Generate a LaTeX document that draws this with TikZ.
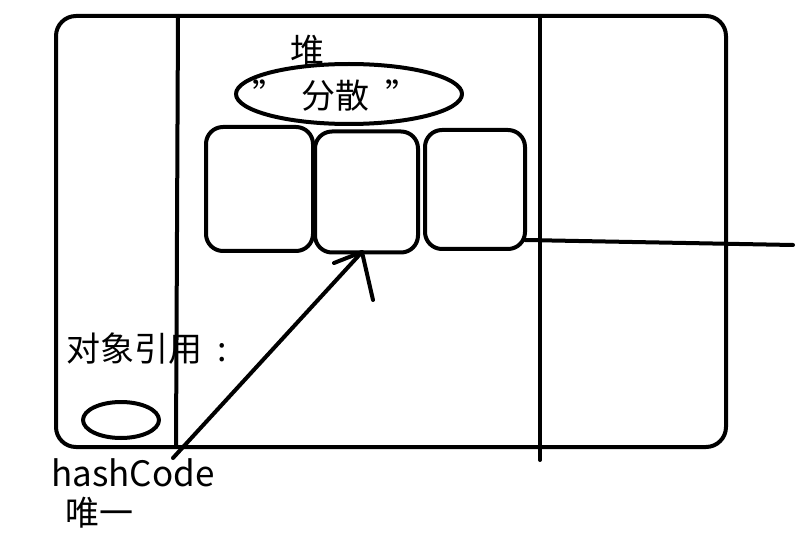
\documentclass[tikz,border=0pt]{standalone}
\usepackage{fontspec}
\newfontfamily\cjk{Noto Sans CJK SC}
\usetikzlibrary{shapes.geometric}
\begin{document}
\begin{tikzpicture}[x=1pt,y=-1pt,
  ln/.style={line width=4pt,line cap=round,line join=round},
  cell/.style={ln,rounded corners=17pt},
  lbl/.style={font=\cjk\fontsize{34}{38}\selectfont,inner sep=0pt,anchor=west}]
\useasboundingbox (0,0) rectangle (803,545);
% outer frame
\draw[ln,rounded corners=20pt] (56,16) rectangle (726,447);
\coordinate (v1t) at (178,16); \coordinate (v1b) at (176,447);
\coordinate (v2t) at (540,16); \coordinate (v2b) at (540,460);
\draw[ln] (v1t) -- (v1b);
\draw[ln] (v2t) -- (v2b);
% heap label and ellipse
\node[lbl,anchor=center] (heap) at (307,51) {堆};
\draw[ln] (349,94) ellipse [x radius=113, y radius=30];
\node[lbl,anchor=center] (fs) at (336,96) {”\hspace{0.45em}分散\hspace{0.45em}”};
% cells
\draw[cell] (206,127) rectangle (313,251);
\node (c2) [draw,ln,rounded corners=17pt,minimum width=103pt,minimum height=121pt,inner sep=0pt] at (366.5,192) {};
\draw[cell] (425,130) rectangle (525,249);
\coordinate (c3r) at (525,240);
\coordinate (far) at (793,245);
\draw[ln] (c3r) -- (far);
% arrow
\coordinate (tail) at (173,458);
\coordinate (tip) at (362,252);
\coordinate (h1) at (334,263);
\coordinate (h2) at (373,300);
\draw[ln] (tail) -- (tip);
\draw[ln] (h1) -- (tip) -- (h2);
% reference text
\node[lbl] (ref) at (66,349) {对象引用\hspace{0.45em}:};
\draw[ln] (121,420) ellipse [x radius=38, y radius=18];
\node[lbl,font=\cjk\fontsize{35}{38}\selectfont] (hc) at (51,473) {hashCode};
\node[lbl] (wy) at (65,513) {唯一};
\end{tikzpicture}
\end{document}
